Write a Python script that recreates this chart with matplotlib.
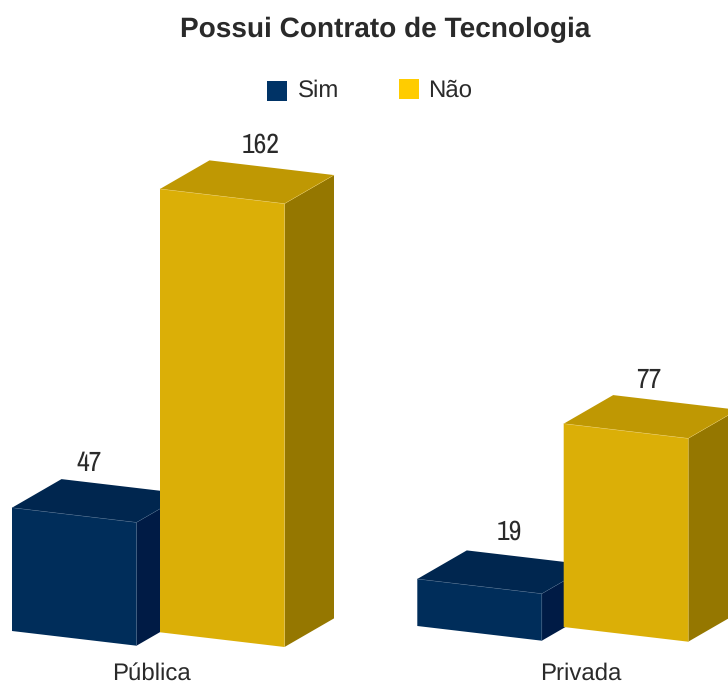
import matplotlib
matplotlib.use("Agg")
import matplotlib.pyplot as plt
from matplotlib import font_manager as fm
from matplotlib.patches import Polygon, Rectangle

# ---- data ----
categories = ["Pública", "Privada"]
series_names = ["Sim", "Não"]
sim_values = [47, 19]
nao_values = [162, 77]

# ---- styles / layout ----
title = "Possui Contrato de Tecnologia"
legend_colors = ["#003366", "#ffcc00"]
face_colors = {
    "Sim": ("#002d5a", "#00264f", "#001b45"),
    "Não": ("#dbaf07", "#bf9803", "#957700"),
}
edge_colors = {"Sim": "#3f5f82", "Não": "#e6c65a"}

bar_w = 124.5
depth_x, depth_y = 49.5, -28.6
slope = 14.7
group_left = [(12.0, 160.0), (417.3, 563.7)]
group_base = [(631.0, 632.3), (626.0, 627.0)]
# pixels per value and value of the chart's floor, one per group (perspective)
group_scale = [2.783, 2.695]
group_floor = [2.7, 1.56]
label_nudge = [(-10, 14), (5, -2)]
label_gap = [(16, 15), (18, 15)]
cat_x = [151, 581]

available = {f.name for f in fm.fontManager.ttflist}
narrow = next((n for n in ["Liberation Sans Narrow", "Arial Narrow", "Archivo Narrow",
                           "Roboto Condensed", "PT Sans Narrow"] if n in available),
              "Liberation Sans")
plt.rcParams["font.family"] = ["Liberation Sans", "DejaVu Sans"]
plt.rcParams["text.hinting"] = "no_hinting"
plt.rcParams["text.hinting_factor"] = 1
TEXT = "#2a2a2a"

fig = plt.figure(figsize=(7.28, 6.84), dpi=100)
ax = fig.add_axes([0, 0, 1, 1])
ax.set_xlim(0, 728)
ax.set_ylim(684, 0)
ax.axis("off")


def draw_bar(name, value, g, s):
    left = group_left[g][s]
    base = group_base[g][s]
    h = (value - group_floor[g]) * group_scale[g]
    right = left + bar_w
    tl = (left, base - h)
    tr = (right, base - h + slope)
    bl = (left, base)
    br = (right, base + slope)
    shift = lambda p: (p[0] + depth_x, p[1] + depth_y)
    front, top, side = face_colors[name]
    edge = edge_colors[name]
    ax.add_patch(Polygon([tr, shift(tr), shift(br), br], fc=side, ec="none", zorder=2 + s))
    ax.add_patch(Polygon([tl, shift(tl), shift(tr), tr], fc=top, ec="none", zorder=2 + s))
    ax.add_patch(Polygon([tl, tr, br, bl], fc=front, ec="none", zorder=2 + s))
    ax.plot([tl[0], tr[0], br[0]], [tl[1], tr[1], br[1]], color=edge, lw=0.4, zorder=2.5 + s,
            solid_capstyle="butt")
    ax.plot([tr[0], shift(tr)[0]], [tr[1], shift(tr)[1]], color=edge, lw=0.3, zorder=2.5 + s)
    cx = left + (bar_w + depth_x) / 2 + label_nudge[g][s]
    cy = tl[1] + depth_y - label_gap[g][s]
    ax.text(cx, cy, str(value), ha="center", va="center", fontsize=20, color=TEXT,
            family=[narrow, "DejaVu Sans"], zorder=6)


for g in range(len(categories)):
    draw_bar("Sim", sim_values[g], g, 0)
    draw_bar("Não", nao_values[g], g, 1)
    ax.text(cat_x[g], 673.5, categories[g], ha="center", va="center", fontsize=17, color=TEXT)

ax.text(385, 29.5, title, ha="center", va="center", fontsize=20.1, fontweight="bold", color=TEXT)

for name, color, sx, sy, tx in zip(series_names, legend_colors, [267, 399], [81, 79], [298, 428.5]):
    ax.add_patch(Rectangle((sx, sy), 20, 20, fc=color, ec="none"))
    ax.text(tx, 91, name, ha="left", va="center", fontsize=17, color=TEXT)

fig.savefig("out.png", dpi=100)
